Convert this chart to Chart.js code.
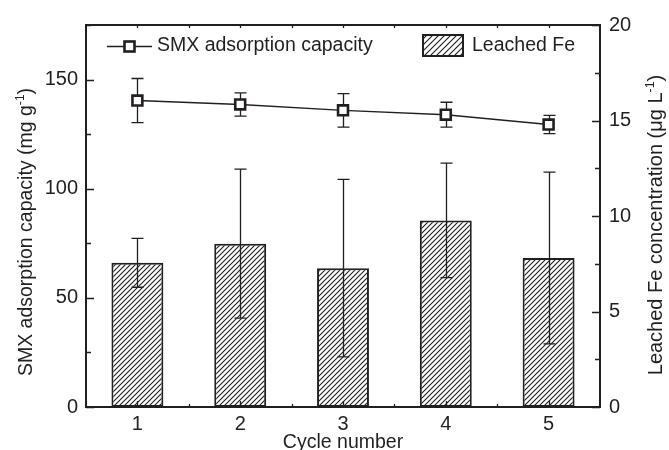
<!DOCTYPE html>
<html>
<head>
<meta charset="utf-8">
<script src="https://cdn.jsdelivr.net/npm/chart.js@4/dist/chart.umd.min.js"></script>
<style>
  html, body { margin: 0; padding: 0; background: #fff; }
  canvas { display: block; }
</style>
</head>
<body>
<canvas id="chart" width="669" height="450"></canvas>
<script>
// Regeneration cycles
const cycles = ['1', '2', '3', '4', '5'];
// SMX adsorption capacity (mg g-1) and standard deviation
const smxCapacity = [140.4, 138.6, 135.9, 133.9, 129.4];
const smxError = [10.1, 5.3, 7.7, 5.7, 4.2];
// Leached Fe concentration (ug L-1) and standard deviation
const leachedFe = [7.55, 8.55, 7.27, 9.77, 7.80];
const leachedFeError = [1.28, 3.9, 4.65, 3.0, 4.5];
// Labelled ticks on each value axis
const leftTicks = [0, 50, 100, 150];
const rightTicks = [0, 5, 10, 15, 20];

const INK = '#231f20';
const FONT = '"Liberation Sans", Arial, Helvetica, sans-serif';

// Diagonal hatch fill
function hatchPattern(step, lineWidth, color) {
  const c = document.createElement('canvas');
  c.width = step; c.height = step;
  const g = c.getContext('2d');
  g.fillStyle = '#fff';
  g.fillRect(0, 0, step, step);
  g.strokeStyle = color;
  g.lineWidth = lineWidth;
  g.beginPath();
  g.moveTo(0, step); g.lineTo(step, 0);
  g.moveTo(-step / 2, step / 2); g.lineTo(step / 2, -step / 2);
  g.moveTo(step / 2, step * 1.5); g.lineTo(step * 1.5, step / 2);
  g.stroke();
  return g.createPattern(c, 'repeat');
}
const barHatch = hatchPattern(5, 1.1, '#1e1e1e');
const legendHatch = hatchPattern(6, 1.1, '#1e1e1e');

function drawErrorBars(ctx, meta, yScale, values, errors, capHalf) {
  ctx.save();
  ctx.strokeStyle = INK;
  ctx.lineWidth = 1.3;
  meta.data.forEach((el, i) => {
    const x = Math.round(el.x) + 0.5;
    const yHi = yScale.getPixelForValue(values[i] + errors[i]);
    const yLo = yScale.getPixelForValue(values[i] - errors[i]);
    ctx.beginPath();
    ctx.moveTo(x, yHi); ctx.lineTo(x, yLo);
    ctx.moveTo(x - capHalf, yHi); ctx.lineTo(x + capHalf, yHi);
    ctx.moveTo(x - capHalf, yLo); ctx.lineTo(x + capHalf, yLo);
    ctx.stroke();
  });
  ctx.restore();
}

// Error bars: after the bars are drawn, before the line and its markers
const errorBarsPlugin = {
  id: 'errorBars',
  afterDatasetDraw(chart, args) {
    if (args.index !== 0) return;
    const ctx = chart.ctx;
    drawErrorBars(ctx, chart.getDatasetMeta(0), chart.scales.y1, leachedFe, leachedFeError, 6);
    drawErrorBars(ctx, chart.getDatasetMeta(1), chart.scales.y, smxCapacity, smxError, 6);
  }
};

function drawTitle(ctx, parts, cx, cy, rotate, size) {
  const supSize = size * 0.62;
  ctx.save();
  ctx.translate(cx, cy);
  if (rotate) ctx.rotate(-Math.PI / 2);
  let total = 0;
  const widths = parts.map(p => {
    ctx.font = (p.sup ? supSize : size) + 'px ' + FONT;
    const w = ctx.measureText(p.text).width;
    total += w;
    return w;
  });
  let x = -total / 2;
  ctx.fillStyle = INK;
  ctx.textBaseline = 'alphabetic';
  ctx.textAlign = 'left';
  parts.forEach((p, i) => {
    ctx.font = (p.sup ? supSize : size) + 'px ' + FONT;
    ctx.fillText(p.text, x, p.sup ? size * 0.36 - size * 0.42 : size * 0.36);
    x += widths[i];
  });
  ctx.restore();
}

// Frame, inward ticks, axis titles and legend
const framePlugin = {
  id: 'frame',
  afterDraw(chart) {
    const { ctx, chartArea: a, scales } = chart;
    const xs = scales.x, yl = scales.y, yr = scales.y1;
    ctx.save();
    ctx.strokeStyle = INK;
    ctx.lineWidth = 1.3;
    ctx.beginPath();
    // left axis ticks every 25, labelled every 50
    for (let v = 0; v <= 175; v += 25) {
      const y = Math.round(yl.getPixelForValue(v)) + 0.5;
      ctx.moveTo(a.left, y); ctx.lineTo(a.left + (v % 50 === 0 ? 8 : 5), y);
    }
    // right axis ticks every 2.5, labelled every 5
    for (let v = 0; v <= 20; v += 2.5) {
      const y = Math.round(yr.getPixelForValue(v)) + 0.5;
      ctx.moveTo(a.right, y); ctx.lineTo(a.right - (v % 5 === 0 ? 8 : 5), y);
    }
    // bottom and top ticks at each cycle and between cycles
    for (let i = 0; i < cycles.length; i++) {
      for (const d of [0, 0.5]) {
        if (i + d > cycles.length - 1 + 0.01) continue;
        const x = Math.round(xs.getPixelForValue(i + d)) + 0.5;
        ctx.moveTo(x, a.bottom); ctx.lineTo(x, a.bottom - (d === 0 ? 6 : 3));
        ctx.moveTo(x, a.top); ctx.lineTo(x, a.top + 3);
      }
    }
    ctx.stroke();
    ctx.lineWidth = 2;
    ctx.strokeRect(a.left, a.top, a.right - a.left, a.bottom - a.top);
    ctx.restore();

    // axis titles
    drawTitle(ctx, [{ text: 'Cycle number' }], (a.left + a.right) / 2, 441, false, 19.5);
    drawTitle(ctx, [{ text: 'SMX adsorption capacity (mg g' }, { text: '-1', sup: true }, { text: ')' }], 25, 232, true, 19.5);
    drawTitle(ctx, [{ text: 'Leached Fe concentration (\u03bcg L' }, { text: '-1', sup: true }, { text: ')' }], 655, 225, true, 20);

    // legend
    const lineSet = chart.data.datasets[1];
    const barSet = chart.data.datasets[0];
    ctx.save();
    ctx.strokeStyle = INK;
    ctx.lineWidth = 1.5;
    ctx.beginPath();
    ctx.moveTo(107, 46.5); ctx.lineTo(152, 46.5);
    ctx.stroke();
    ctx.fillStyle = '#fff';
    ctx.lineWidth = 2.6;
    ctx.fillRect(124.5, 41.5, 10, 10);
    ctx.strokeRect(124.5, 41.5, 10, 10);
    ctx.fillStyle = INK;
    ctx.font = '19.5px ' + FONT;
    ctx.textBaseline = 'middle';
    ctx.fillText(lineSet.label, 157, 46);
    ctx.fillStyle = legendHatch;
    ctx.fillRect(423, 35, 40, 21);
    ctx.lineWidth = 2;
    ctx.strokeRect(423, 35, 40, 21);
    ctx.fillStyle = INK;
    ctx.fillText(barSet.label, 472, 46);
    ctx.restore();
  }
};

new Chart(document.getElementById('chart'), {
  type: 'bar',
  data: {
    labels: cycles,
    datasets: [
      {
        type: 'bar',
        label: 'Leached Fe',
        data: leachedFe,
        yAxisID: 'y1',
        backgroundColor: barHatch,
        borderColor: INK,
        borderWidth: 2,
        borderSkipped: false,
        barPercentage: 0.505,
        categoryPercentage: 1,
        order: 2
      },
      {
        type: 'line',
        label: 'SMX adsorption capacity',
        data: smxCapacity,
        yAxisID: 'y',
        borderColor: INK,
        borderWidth: 1.4,
        pointStyle: 'rect',
        pointRadius: 7,
        pointBorderWidth: 2.6,
        pointBackgroundColor: '#fff',
        pointBorderColor: INK,
        tension: 0,
        order: 1
      }
    ]
  },
  options: {
    responsive: false,
    animation: false,
    devicePixelRatio: 1,
    layout: { padding: { top: 25, left: 0, right: 0, bottom: 0 } },
    plugins: { legend: { display: false }, tooltip: { enabled: false } },
    scales: {
      x: {
        offset: true,
        grid: { display: false, drawTicks: false },
        border: { display: false },
        ticks: { color: INK, font: { family: FONT, size: 20 }, padding: 5, maxRotation: 0 },
        afterFit(s) { s.height = 43; }
      },
      y: {
        position: 'left',
        min: 0, max: 175,
        grid: { display: false, drawTicks: false },
        border: { display: false },
        afterBuildTicks(s) { s.ticks = leftTicks.map(v => ({ value: v })); },
        ticks: { color: INK, font: { family: FONT, size: 20 }, padding: 8 },
        afterFit(s) { s.width = 86; }
      },
      y1: {
        position: 'right',
        min: 0, max: 20,
        grid: { display: false, drawTicks: false },
        border: { display: false },
        afterBuildTicks(s) { s.ticks = rightTicks.map(v => ({ value: v })); },
        ticks: { color: INK, font: { family: FONT, size: 20 }, padding: 9 },
        afterFit(s) { s.width = 69; }
      }
    }
  },
  plugins: [errorBarsPlugin, framePlugin]
});
</script>
</body>
</html>
